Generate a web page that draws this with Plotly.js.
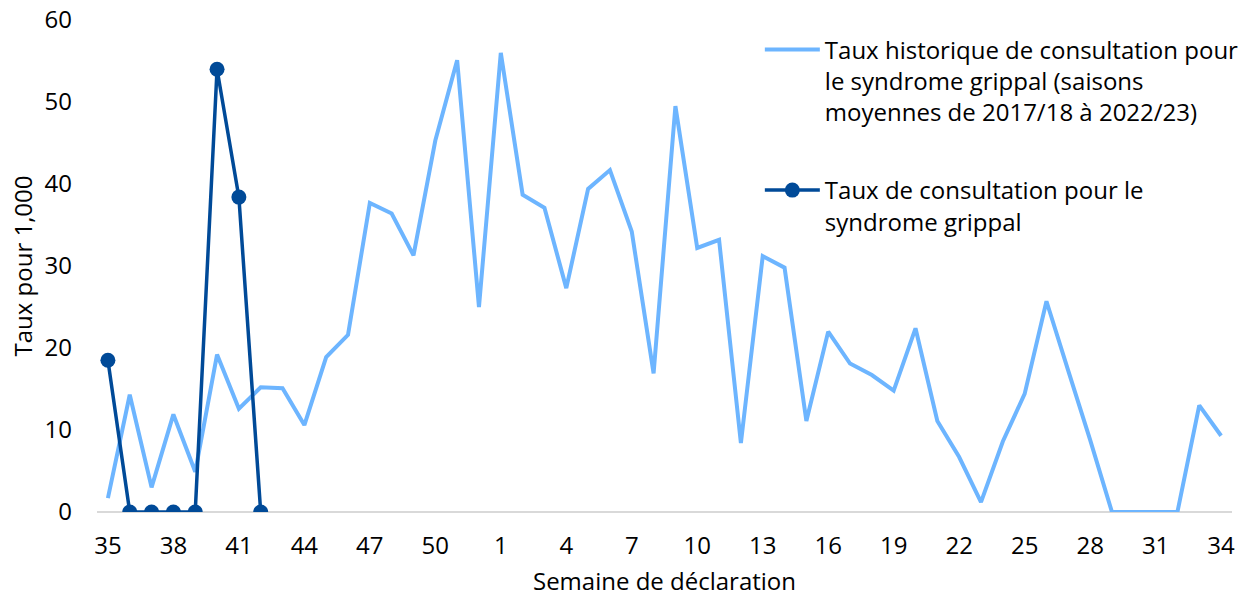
<!DOCTYPE html>
<html>
<head>
<meta charset="utf-8">
<script src="https://cdn.plot.ly/plotly-3.0.1.min.js"></script>
<style>html,body{margin:0;padding:0;background:#fff;}#chart{width:1240px;height:597px;}</style>
</head>
<body>
<div id="chart"></div>
<script>
const semaines = ["35","36","37","38","39","40","41","42","43","44","45","46","47","48","49","50","51","52",
  "1","2","3","4","5","6","7","8","9","10","11","12","13","14","15","16","17","18","19","20","21","22","23","24","25","26","27","28","29","30","31","32","33","34"];
const tauxHistorique = [1.7,14.3,3.0,11.9,4.9,19.2,12.6,15.2,15.1,10.6,18.9,21.6,37.7,36.4,31.3,45.3,55.1,25.0,
  56.0,38.7,37.1,27.3,39.4,41.7,34.2,16.9,49.5,32.2,33.2,8.4,31.2,29.8,11.1,22.0,18.1,16.7,14.8,22.4,11.1,6.7,1.2,8.6,14.4,25.7,17.2,8.8,0,0,0,0,13.0,9.3];
const semainesActuelles = ["35","36","37","38","39","40","41","42"];
const tauxActuel = [18.5,0,0,0,0,54.0,38.4,0];
const etiquettesX = ["35","38","41","44","47","50","1","4","7","10","13","16","19","22","25","28","31","34"];
const etiquettesY = [0,10,20,30,40,50,60];

const FONT = "Open Sans, Noto Sans, sans-serif";
const FS = 24;
const traces = [
  {x: semaines, y: tauxHistorique, type: "scatter", mode: "lines",
   name: "Taux historique de consultation pour<br>le syndrome grippal (saisons<br>moyennes de 2017/18 à 2022/23)",
   legendgroup: "a",
   line: {color: "#6DB5FF", width: 4}},
  {x: semainesActuelles, y: tauxActuel, type: "scatter", mode: "lines+markers",
   name: "Taux de consultation pour le<br>syndrome grippal",
   legendgroup: "b",
   line: {color: "#004A98", width: 3.5},
   marker: {color: "#004A98", size: 15}}
];
const layout = {
  width: 1240, height: 597,
  margin: {l: 97, r: 8, t: 20, b: 85, autoexpand: false},
  paper_bgcolor: "#fff", plot_bgcolor: "#fff",
  font: {family: FONT, size: FS, color: "#000"},
  showlegend: true,
  legend: {x: 0.584, xanchor: "left", y: 0.985, yanchor: "top",
           itemwidth: 55, tracegroupgap: 44, valign: "top",
           font: {family: FONT, size: FS, color: "#000"}, bgcolor: "rgba(0,0,0,0)"},
  xaxis: {type: "category", categoryorder: "array", categoryarray: semaines,
          range: [-0.5, 51.5], tickmode: "array", tickvals: etiquettesX, ticktext: etiquettesX,
          showgrid: false, zeroline: false, showline: false, ticks: "", ticklabelstandoff: 17,
          tickfont: {family: FONT, size: FS, color: "#000"},
          title: {text: "Semaine de déclaration", font: {family: FONT, size: FS, color: "#000"}, standoff: 14}},
  yaxis: {range: [0, 60], tickmode: "array", tickvals: etiquettesY, showgrid: false,
          zeroline: true, zerolinecolor: "#D9D9D9", zerolinewidth: 2, showline: false, ticks: "",
          tickfont: {family: FONT, size: FS, color: "#000"}, ticklabelstandoff: 24,
          title: {text: "Taux pour 1,000", font: {family: FONT, size: FS, color: "#000"}, standoff: 5}}
};
Plotly.newPlot("chart", traces, layout, {displayModeBar: false, staticPlot: true});
</script>
</body>
</html>
